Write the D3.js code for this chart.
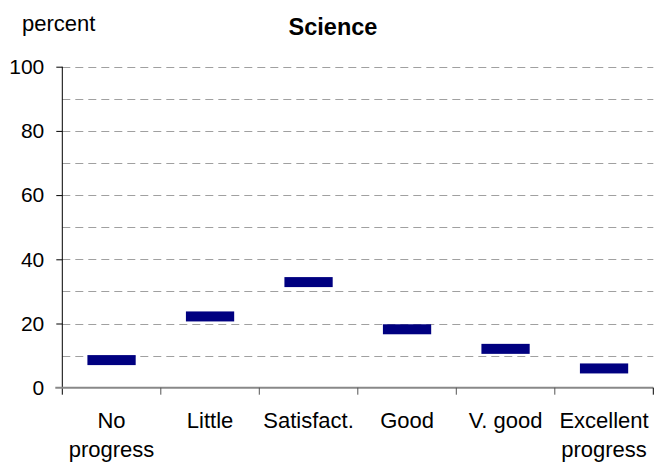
<!DOCTYPE html>
<html>
<head>
<meta charset="utf-8">
<script src="https://cdn.jsdelivr.net/npm/d3@7"></script>
<style>
  html, body { margin: 0; padding: 0; background: #fff; }
  text { font-family: "Liberation Sans", Arial, sans-serif; fill: #000; }
</style>
</head>
<body>
<svg id="chart" width="654" height="462"></svg>
<script>
const categories = [["No", "progress"], ["Little"], ["Satisfact."], ["Good"], ["V. good"], ["Excellent", "progress"]];
const values = [8.6, 22.2, 32.9, 18.2, 12.1, 6.0];
const yTicks = [0, 20, 40, 60, 80, 100];
const gridValues = [10, 20, 30, 40, 50, 60, 70, 80, 90, 100];
const title = "Science";
const yLabel = "percent";

(function () {
const svg = d3.select("#chart");
const pLeft = 62.3, pRight = 653.3, pTop = 66.7, pBottom = 387.7;

const x = d3.scaleBand().domain(d3.range(categories.length)).range([pLeft, pRight]).padding(0);
const y = d3.scaleLinear().domain([0, 100]).range([pBottom, pTop]);

// gridlines
svg.append("g").selectAll("line").data(gridValues).join("line")
  .attr("x1", pLeft).attr("x2", pRight)
  .attr("y1", d => Math.round(y(d)) + 0.5).attr("y2", d => Math.round(y(d)) + 0.5)
  .attr("stroke", "#a0a0a0").attr("stroke-width", 1).attr("stroke-dasharray", "8,5");

// y axis
const yAxis = d3.axisLeft(y).tickValues(yTicks).tickSize(6).tickPadding(12).tickFormat(d3.format("d"));
const gy = svg.append("g").attr("transform", `translate(${pLeft},0)`).call(yAxis);
gy.select(".domain").attr("stroke", "#000").attr("d", `M0,${pTop}V${pBottom + 7}`);
gy.selectAll(".tick line").attr("stroke", "#000");
gy.selectAll(".tick").filter(d => d === 0).select("line").remove();
gy.selectAll(".tick text").attr("font-size", 21).attr("font-family", "Liberation Sans, Arial, sans-serif").attr("fill", "#000");

// x axis
const boundaries = d3.range(categories.length + 1).map(i => pLeft + i * x.bandwidth());
const gx = svg.append("g");
gx.append("line").attr("x1", pLeft - 7).attr("x2", pRight).attr("y1", pBottom).attr("y2", pBottom)
  .attr("stroke", "#888").attr("stroke-width", 2);
gx.selectAll("line.tk").data(boundaries.slice(1)).join("line").attr("class", "tk")
  .attr("x1", d => d).attr("x2", d => d).attr("y1", pBottom).attr("y2", pBottom + 7)
  .attr("stroke", (d, i) => i === categories.length - 1 ? "#000" : "#555").attr("stroke-width", 1);

// category labels
const lab = svg.append("g").selectAll("text").data(categories).join("text")
  .attr("text-anchor", "middle").attr("font-size", 22)
  .attr("x", (d, i) => x(i) + x.bandwidth() / 2).attr("y", 428);
lab.selectAll("tspan").data(d => d).join("tspan")
  .attr("x", function () { return d3.select(this.parentNode).attr("x"); })
  .attr("dy", (d, i) => i === 0 ? 0 : 28.5)
  .text(d => d);

// markers (dash)
const bw = x.bandwidth() * 0.49;
svg.append("g").selectAll("rect").data(values).join("rect")
  .attr("x", (d, i) => x(i) + (x.bandwidth() - bw) / 2)
  .attr("y", d => y(d) - 5)
  .attr("width", bw).attr("height", 10)
  .attr("fill", "#000080");

// title and y label
svg.append("text").attr("x", 333).attr("y", 35).attr("text-anchor", "middle")
  .attr("font-size", 23.5).attr("font-weight", "bold").text(title);
svg.append("text").attr("x", 22).attr("y", 31).attr("font-size", 22).text(yLabel);
})();
</script>
</body>
</html>
